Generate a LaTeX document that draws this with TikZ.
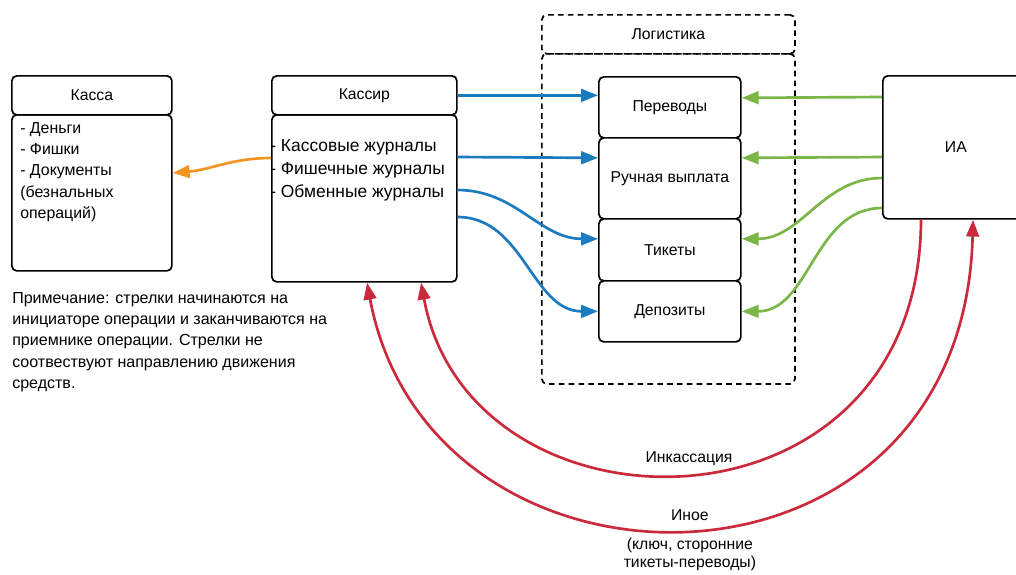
\documentclass[tikz,border=0pt]{standalone}
\usepackage{fontspec}
\setmainfont{Liberation Sans}
\usetikzlibrary{arrows.meta}
\definecolor{flowblue}{HTML}{1B7BBF}
\definecolor{flowgreen}{HTML}{7AB648}
\definecolor{floworange}{HTML}{F39423}
\definecolor{flowred}{HTML}{CB2A3C}
\tikzset{
  block/.style={draw, line width=1.2pt, rounded corners=3.5pt, inner sep=0pt, anchor=north west},
  dblock/.style={block, dash pattern=on 4pt off 3pt},
  flow/.style={line width=1.9pt, -{Triangle[length=12pt,width=9pt]}},
  twoflow/.style={line width=1.9pt, {Triangle[length=12pt,width=9pt]}-{Triangle[length=12pt,width=9pt]}},
}

\begin{document}
\begin{tikzpicture}[x=0.025cm, y=-0.025cm, font=\fontsize{11.2}{14}\selectfont]
  \useasboundingbox (0,0) rectangle (1016,574);
  \clip (0,0) rectangle (1016,574);

  \node[block, minimum width=4cm, minimum height=0.975cm] (kassaHead) at (11,75) {Касса};
  \node[block, minimum width=4cm, minimum height=3.9cm] (kassaBody) at (11,114) {};
  \node[align=left, anchor=west, inner sep=0pt, font=\fontsize{11.3}{15.1}\selectfont] (kassaText) at (20,172)
    {- Деньги\\- Фишки\\- Документы\\(безнальных\\операций)};

  \node[block, minimum width=4.625cm, minimum height=0.975cm] (kassirHead) at (271,75) {Кассир};
  \node[block, minimum width=4.625cm, minimum height=4.175cm] (kassirBody) at (271,114) {};
  \node[align=left, anchor=west, inner sep=0pt, font=\fontsize{12.4}{16.4}\selectfont] (kassirText) at (270,170)
    {- Кассовые журналы\\- Фишечные журналы\\- Обменные журналы};

  \node[dblock, minimum width=6.325cm, minimum height=0.975cm] (logHead) at (541,14) {Логистика};
  \node[dblock, minimum width=6.325cm, minimum height=8.25cm] (logBody) at (541,53) {};

  \node[block, fill=white, minimum width=3.55cm, minimum height=1.525cm] (perevody) at (598,76) {Переводы};
  \node[block, fill=white, minimum width=3.55cm, minimum height=2.025cm] (ruchnaya) at (598,137) {Ручная выплата};
  \node[block, fill=white, minimum width=3.55cm, minimum height=1.55cm] (tikety) at (598,218) {Тикеты};
  \node[block, fill=white, minimum width=3.55cm, minimum height=1.525cm] (depozity) at (598,280) {Депозиты};

  \node[block, minimum width=3.65cm, minimum height=3.575cm] (ia) at (882,75) {ИА};

  \node[align=left, anchor=west, inner sep=0pt, font=\fontsize{11.4}{15.1}\selectfont] (note) at (12,342)
    {Примечание: стрелки начинаются на\\инициаторе операции и заканчиваются на\\приемнике операции. Стрелки не\\соотвествуют направлению движения\\средств.};

  \draw[flow, flowblue] (kassirHead.east) -- (kassirHead.east -| perevody.west);
  \draw[flow, flowblue] ([yshift=-1.075cm]kassirBody.north east) -- ([yshift=0.5125cm]ruchnaya.west);
  \draw[flow, flowblue] ([yshift=-1.9cm]kassirBody.north east) to[out=0, in=180] ([yshift=0.275cm]tikety.west);
  \draw[flow, flowblue] ([yshift=-2.575cm]kassirBody.north east) to[out=0, in=180] (depozity.west);

  \draw[flow, flowgreen] ([yshift=-0.55cm]ia.north west) -- ([yshift=0.2375cm]perevody.east);
  \draw[flow, flowgreen] ([yshift=-2.05cm]ia.north west) -- ([yshift=0.5125cm]ruchnaya.east);
  \draw[flow, flowgreen] ([yshift=-2.575cm]ia.north west) to[out=180, in=0] ([yshift=0.275cm]tikety.east);
  \draw[flow, flowgreen] ([yshift=-3.325cm]ia.north west) to[out=180, in=0] (depozity.east);

  \draw[flow, floworange] ([yshift=-1.1cm]kassirBody.north west) to[out=180, in=5] ([yshift=-1.475cm]kassaBody.north east);

  \draw[flow, flowred] ([xshift=0.975cm]ia.south west) .. controls (920,548) and (470,548) .. ([xshift=3.75cm]kassirBody.south west)
    node[pos=0.5, above=5pt, inner sep=0pt, text=black] (inkLabel) {Инкассация};
  \draw[twoflow, flowred] ([xshift=2.4cm]kassirBody.south west) .. controls (430,620) and (963,620) .. ([xshift=2.275cm]ia.south west)
    node[pos=0.5, above=4pt, inner sep=0pt, text=black] (inoeLabel) {Иное}
    node[pos=0.5, below=6pt, inner sep=0pt, align=center, text=black, font=\fontsize{11.2}{13.5}\selectfont] (inoeNote) {(ключ, сторонние\\тикеты-переводы)};
\end{tikzpicture}
\end{document}
